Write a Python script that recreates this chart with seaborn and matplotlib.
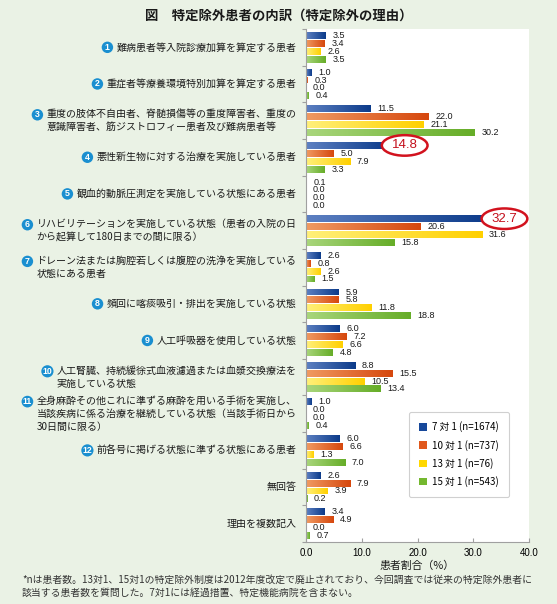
import matplotlib
matplotlib.use('Agg')
import matplotlib.pyplot as plt
import seaborn as sns
import pandas as pd
import numpy as np
from matplotlib.patches import Ellipse, Patch
from matplotlib.colors import LinearSegmentedColormap

plt.rcParams['font.family'] = ['Noto Sans CJK JP', 'DejaVu Sans']

# reasons (y categories) and their circled numbers
reasons = [
    '難病患者等入院診療加算を算定する患者',
    '重症者等療養環境特別加算を算定する患者',
    '重度の肢体不自由者、脊髄損傷等の重度障害者、重度の\n意識障害者、筋ジストロフィー患者及び難病患者等',
    '悪性新生物に対する治療を実施している患者',
    '観血的動脈圧測定を実施している状態にある患者',
    'リハビリテーションを実施している状態（患者の入院の日\nから起算して180日までの間に限る）',
    'ドレーン法または胸腔若しくは腹腔の洗浄を実施している\n状態にある患者',
    '頻回に喀痰吸引・排出を実施している状態',
    '人工呼吸器を使用している状態',
    '人工腎臓、持続緩徐式血液濾過または血漿交換療法を\n実施している状態',
    '全身麻酔その他これに準ずる麻酔を用いる手術を実施し、\n当該疾病に係る治療を継続している状態（当該手術日から\n30日間に限る）',
    '前各号に掲げる状態に準ずる状態にある患者',
    '無回答',
    '理由を複数記入',
]
numbers = ['1', '2', '3', '4', '5', '6', '7', '8', '9', '10', '11', '12', '', '']

series_names = ['7 対 1 (n=1674)', '10 対 1 (n=737)', '13 対 1 (n=76)', '15 対 1 (n=543)']
v7 = [3.5, 1.0, 11.5, 14.8, 0.1, 32.7, 2.6, 5.9, 6.0, 8.8, 1.0, 6.0, 2.6, 3.4]
v10 = [3.4, 0.3, 22.0, 5.0, 0.0, 20.6, 0.8, 5.8, 7.2, 15.5, 0.0, 6.6, 7.9, 4.9]
v13 = [2.6, 0.0, 21.1, 7.9, 0.0, 31.6, 2.6, 11.8, 6.6, 10.5, 0.0, 1.3, 3.9, 0.0]
v15 = [3.5, 0.4, 30.2, 3.3, 0.0, 15.8, 1.5, 18.8, 4.8, 13.4, 0.4, 7.0, 0.2, 0.7]
xticks = [0, 10, 20, 30, 40]

# (series index, reason index) of the circled values
highlights = [(0, 3), (0, 5)]

solid = ['#17489a', '#e0581c', '#ffd800', '#74b82f']
grads = [('#5d80c2', '#0c3b8a'), ('#f09a62', '#d6480e'),
         ('#fff07a', '#ffd000'), ('#a9d67c', '#66ad28')]

df = pd.DataFrame({
    'reason': reasons * 4,
    'series': np.repeat(series_names, len(reasons)),
    'value': v7 + v10 + v13 + v15,
})

W, H = 557, 604
fig = plt.figure(figsize=(W / 100, H / 100), dpi=100, facecolor='#eaf2e5')
ax = fig.add_axes([306 / W, 1 - 542 / H, 223 / W, 513 / H])
ax.set_facecolor('white')

sns.barplot(data=df, x='value', y='reason', hue='series', order=reasons,
            hue_order=series_names, orient='h', palette=solid, width=0.86,
            gap=0.12, errorbar=None, legend=False, ax=ax)

# gradient fill on each bar, like the original
ramp = np.linspace(0, 1, 64).reshape(1, -1)
for cont, (c0, c1) in zip(ax.containers, grads):
    cmap = LinearSegmentedColormap.from_list('g', [c0, c1])
    for p in cont:
        x0, y0, w, h = p.get_x(), p.get_y(), p.get_width(), p.get_height()
        if w < 0.05:
            continue
        im = ax.imshow(ramp, cmap=cmap, extent=[x0, x0 + w, y0 + h, y0],
                       aspect='auto', zorder=p.get_zorder() + 0.1)
        im.set_clip_path(p)

# value labels
for si, cont in enumerate(ax.containers):
    labs = []
    for gi, p in enumerate(cont):
        labs.append('' if (si, gi) in highlights else f'{p.get_width():.1f}')
    ax.bar_label(cont, labels=labs, padding=5, fontsize=6.5,
                 family='Liberation Sans', color='#1a1a1a')

for si, gi in highlights:
    p = ax.containers[si][gi]
    v = p.get_width()
    cy = p.get_y() + p.get_height() / 2
    cx = v + 2.9
    ax.add_patch(Ellipse((cx, cy), 8.2, 0.56, facecolor='white',
                         edgecolor='#d2121e', lw=1.8, zorder=5, clip_on=False))
    ax.text(cx, cy, f'{v:.1f}', ha='center', va='center', fontsize=9.5,
            color='#c4101c', family='Liberation Sans', zorder=6)

ax.set_xlim(0, 40)
ax.set_ylim(len(reasons) - 0.5, -0.5)
ax.set_xticks(xticks)
ax.set_xticklabels([f'{t:.1f}' for t in xticks], fontsize=7, family='Liberation Sans')
ax.set_yticks(np.arange(-0.5, len(reasons), 1))
ax.set_yticklabels([])
ax.tick_params(axis='y', length=3, color='#a0a0a0', width=0.8)
ax.tick_params(axis='x', direction='in', length=3, color='#a0a0a0', width=0.8, pad=4)
ax.set_ylabel('')
ax.set_xlabel('患者割合（%）', fontsize=7.8, labelpad=2, color='#1a1a1a')
for s in ['top', 'right']:
    ax.spines[s].set_visible(False)
for s in ['left', 'bottom']:
    ax.spines[s].set_color('#a0a0a0')
    ax.spines[s].set_linewidth(0.8)

# category labels on the left
texts = []
for i, r in enumerate(reasons):
    t = ax.text(-0.043, i, r, transform=ax.get_yaxis_transform(), ha='right',
                va='center', multialignment='left', fontsize=7.2, linespacing=1.4,
                color='#1a1a1a')
    texts.append(t)

fig.canvas.draw()
rend = fig.canvas.get_renderer()
for t, num in zip(texts, numbers):
    if not num:
        continue
    bb = t.get_window_extent(rend)
    nl = t.get_text().count('\n') + 1
    lh = bb.height / nl
    fig.text((bb.x0 - 9) / W, (bb.y1 - lh / 2) / H, num, ha='center', va='center',
             fontsize=6.3, color='white', fontweight='bold', family='Liberation Sans',
             bbox=dict(boxstyle='circle,pad=0.14', fc='#1a8fd0', ec='none'))

handles = [Patch(facecolor=c, edgecolor='none') for c in solid]
leg = ax.legend(handles, series_names, loc='lower left', bbox_to_anchor=(0.462, 0.088),
                fontsize=7, frameon=True, fancybox=True, framealpha=1,
                edgecolor='#d0d0d0', handlelength=0.8, handleheight=0.8,
                handletextpad=0.6, labelspacing=0.75, borderpad=1.0, borderaxespad=0)
leg.get_frame().set_linewidth(0.8)

fig.text(0.5, 1 - 16 / H, '図　特定除外患者の内訳（特定除外の理由）', ha='center',
         va='center', fontsize=9.6, fontweight='bold', color='#1a1a1a')
fig.text(22 / W, 1 - 580 / H,
         '*nは患者数。13対1、15対1の特定除外制度は2012年度改定で廃止されており、今回調査では従来の特定除外患者に',
         ha='left', va='center', fontsize=7.1, color='#333333')
fig.text(22 / W, 1 - 593 / H,
         '該当する患者数を質問した。7対1には経過措置、特定機能病院を含まない。',
         ha='left', va='center', fontsize=7.1, color='#333333')

fig.savefig('out.png', dpi=100, facecolor=fig.get_facecolor())
